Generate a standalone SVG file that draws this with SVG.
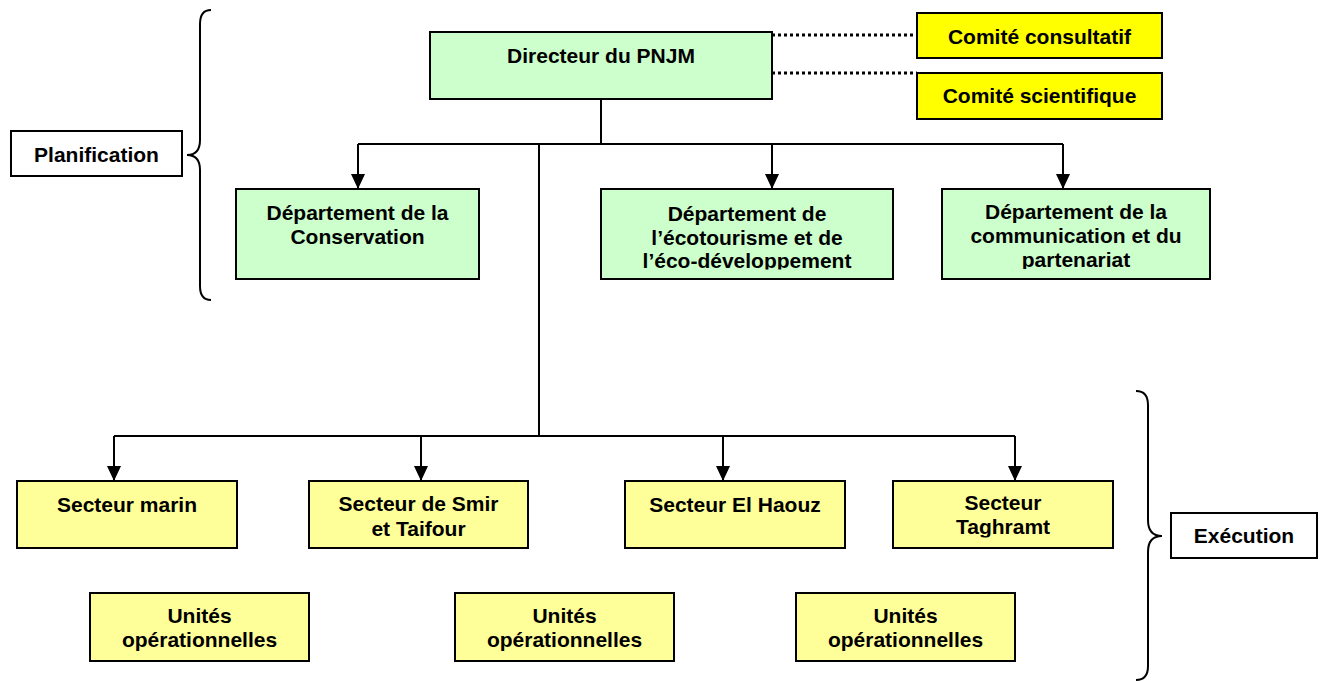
<svg xmlns="http://www.w3.org/2000/svg" width="1325" height="681" viewBox="0 0 1325 681">
<style>
  text { font-family: "Liberation Sans", Arial, sans-serif; font-weight: bold; font-size: 21px; fill: #000; text-anchor: middle; }
  .box { stroke: #000; stroke-width: 2; }
  .green { fill: #CCFFCC; }
  .lyellow { fill: #FFFF99; }
  .yellow { fill: #FFFF00; }
  .white { fill: #FFFFFF; }
  .line { fill: none; stroke: #000; stroke-width: 2; }
  .arrow { fill: none; stroke: #000; stroke-width: 2; marker-end: url(#ah); }
  .dot { fill: none; stroke: #000; stroke-width: 3; stroke-dasharray: 3 3; }
  .brace { fill: none; stroke: #000; stroke-width: 2; }
</style>
<defs>
  <marker id="ah" markerUnits="userSpaceOnUse" markerWidth="15" markerHeight="14" refX="15" refY="7" orient="auto" viewBox="0 0 15 14">
    <path d="M0,0 L15,7 L0,14 z" fill="#000"/>
  </marker>
  <clipPath id="clipEco"><rect x="601" y="189" width="292" height="80.5"/></clipPath>
  <clipPath id="clipCom"><rect x="942" y="189" width="268" height="80"/></clipPath>
  <clipPath id="clipTag"><rect x="893" y="481" width="220" height="56.5"/></clipPath>
</defs>

<g id="braces">
  <path class="brace" d="M211,10 Q200,10 200,24 L200,140 Q200,155 187,155 Q200,155 200,170 L200,286 Q200,300 211,300"/>
  <path class="brace" d="M1136,391 Q1148,391 1148,405 L1148,520 Q1148,536 1162,536 Q1148,536 1148,552 L1148,666 Q1148,680 1136,680"/>
</g>

<g id="connectors">
  <path class="line" d="M601,99 V144"/>
  <path class="line" d="M358,144 H1063"/>
  <path class="arrow" d="M358,144 V189"/>
  <path class="arrow" d="M772,144 V189"/>
  <path class="arrow" d="M1063,144 V189"/>
  <path class="line" d="M539,144 V436"/>
  <path class="line" d="M114,436 H1015"/>
  <path class="arrow" d="M114,436 V481"/>
  <path class="arrow" d="M421,436 V481"/>
  <path class="arrow" d="M723,436 V481"/>
  <path class="arrow" d="M1015,436 V481"/>
  <path class="dot" d="M772,35 H917"/>
  <path class="dot" d="M772,73 H917"/>
</g>

<g id="planification">
  <rect class="box white" x="11" y="131" width="171" height="45"/>
  <text x="96.5" y="162">Planification</text>
</g>

<g id="directeur">
  <rect class="box green" x="430" y="32" width="342" height="67"/>
  <text x="601" y="63">Directeur du PNJM</text>
</g>

<g id="comite-consultatif">
  <rect class="box yellow" x="917" y="13" width="245" height="45"/>
  <text x="1039.5" y="44">Comité consultatif</text>
</g>

<g id="comite-scientifique">
  <rect class="box yellow" x="917" y="73" width="245" height="46"/>
  <text x="1039.5" y="103">Comité scientifique</text>
</g>

<g id="dept-conservation">
  <rect class="box green" x="236" y="189" width="243" height="90"/>
  <text x="357.5" y="220">Département de la</text>
  <text x="357.5" y="244">Conservation</text>
</g>

<g id="dept-ecotourisme">
  <rect class="box green" x="601" y="189" width="292" height="90"/>
  <g clip-path="url(#clipEco)">
    <text x="747" y="221">Département de</text>
    <text x="747" y="245">l’écotourisme et de</text>
    <text x="747" y="268">l’éco-développement</text>
  </g>
</g>

<g id="dept-communication">
  <rect class="box green" x="942" y="189" width="268" height="90"/>
  <g clip-path="url(#clipCom)">
    <text x="1076" y="219">Département de la</text>
    <text x="1076" y="243">communication et du</text>
    <text x="1076" y="267">partenariat</text>
  </g>
</g>

<g id="secteur-marin">
  <rect class="box lyellow" x="17" y="481" width="220" height="67"/>
  <text x="127" y="512">Secteur marin</text>
</g>

<g id="secteur-smir">
  <rect class="box lyellow" x="309" y="481" width="219" height="67"/>
  <text x="418.5" y="511">Secteur de Smir</text>
  <text x="418.5" y="536">et Taifour</text>
</g>

<g id="secteur-haouz">
  <rect class="box lyellow" x="625" y="481" width="220" height="67"/>
  <text x="735" y="512">Secteur El Haouz</text>
</g>

<g id="secteur-taghramt">
  <rect class="box lyellow" x="893" y="481" width="220" height="67"/>
  <g clip-path="url(#clipTag)">
    <text x="1003" y="510">Secteur</text>
    <text x="1003" y="534">Taghramt</text>
  </g>
</g>

<g id="unites-1">
  <rect class="box lyellow" x="90" y="593" width="219" height="68"/>
  <text x="199.5" y="623">Unités</text>
  <text x="199.5" y="647">opérationnelles</text>
</g>

<g id="unites-2">
  <rect class="box lyellow" x="455" y="593" width="219" height="68"/>
  <text x="564.5" y="623">Unités</text>
  <text x="564.5" y="647">opérationnelles</text>
</g>

<g id="unites-3">
  <rect class="box lyellow" x="796" y="593" width="219" height="68"/>
  <text x="905.5" y="623">Unités</text>
  <text x="905.5" y="647">opérationnelles</text>
</g>

<g id="execution">
  <rect class="box white" x="1171" y="513" width="146" height="45"/>
  <text x="1244" y="543">Exécution</text>
</g>
</svg>
